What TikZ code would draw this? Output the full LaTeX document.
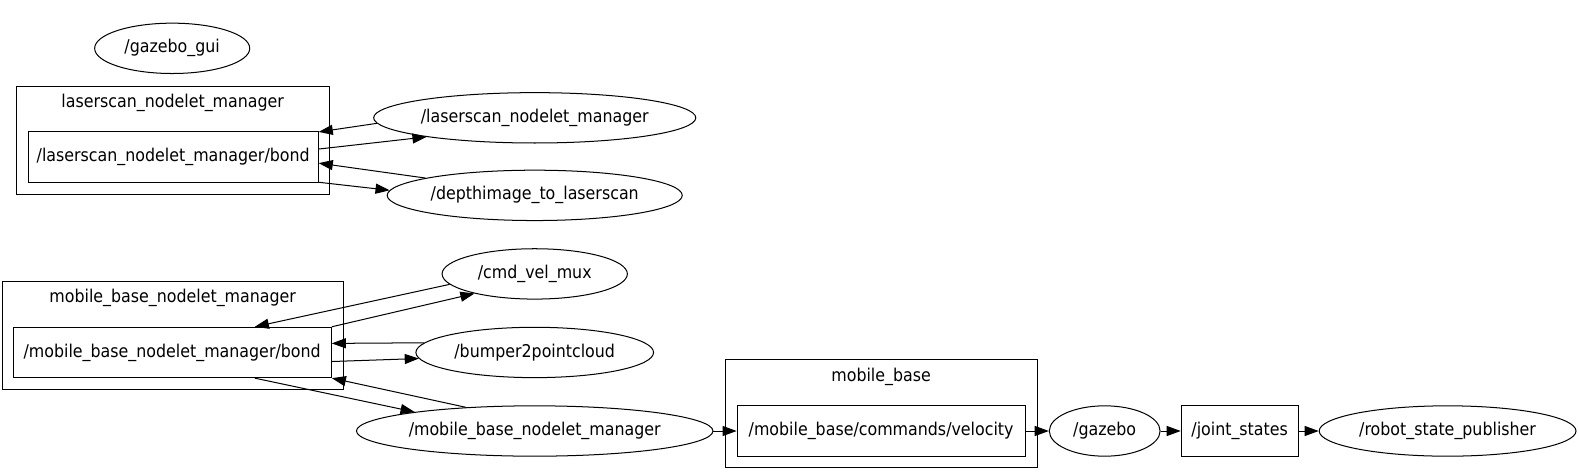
\documentclass[tikz,border=0pt]{standalone}
\usepackage{fontspec}
\IfFontExistsTF{DejaVu Sans Condensed}{%
  \setmainfont{DejaVu Sans Condensed}\newcommand\labelsize{17.5}}{%
  \setmainfont{DejaVu Sans}\newcommand\labelsize{15.8}}
\usetikzlibrary{shapes.geometric,arrows.meta}
\begin{document}
\begin{tikzpicture}[x=1pt,y=-1pt,line width=1pt,
        >={Triangle[length=14pt,width=10pt]},
        every node/.style={font=\fontsize{\labelsize}{18}\selectfont,inner sep=0pt},
        rosnode/.style={draw,ellipse,minimum height=50pt},
        topic/.style={draw,rectangle,minimum height=50pt},
        cluster/.style={draw,rectangle}]
    \useasboundingbox (0,0) rectangle (1568,471);
    % nodes
    \node[rosnode,minimum width=154pt] (gui) at (171,48) {/gazebo\_gui};
    \node[rosnode,minimum width=316pt] (lmgr) at (531,117) {/laserscan\_nodelet\_manager};
    \node[rosnode,minimum width=293pt] (depth) at (531,194) {/depthimage\_to\_laserscan};
    \node[rosnode,minimum width=184pt] (cmd) at (531,272) {/cmd\_vel\_mux};
    \node[rosnode,minimum width=236pt] (bumper) at (531,350) {/bumper2pointcloud};
    \node[rosnode,minimum width=354pt] (mmgr) at (531,428) {/mobile\_base\_nodelet\_manager};
    \node[rosnode,minimum width=110pt] (gazebo) at (1097,428) {/gazebo};
    \node[rosnode,minimum width=255pt] (rsp) at (1437.5,428) {/robot\_state\_publisher};
    % clusters
    \node[cluster,minimum width=311pt,minimum height=107pt] (lcl) at (171.5,139.5) {};
    \node (lcllabel) at (171.5,102) {laserscan\_nodelet\_manager};
    \node[cluster,minimum width=339pt,minimum height=107pt] (mcl) at (171.5,333.5) {};
    \node (mcllabel) at (171.5,296) {mobile\_base\_nodelet\_manager};
    \node[cluster,minimum width=310pt,minimum height=107pt] (vcl) at (875,410.5) {};
    \node (vcllabel) at (875,374) {mobile\_base};
    % topics
    \node[topic,minimum width=288pt] (lbond) at (172,156) {/laserscan\_nodelet\_manager/bond};
    \node[topic,minimum width=316pt] (mbond) at (171,350) {/mobile\_base\_nodelet\_manager/bond};
    \node[topic,minimum width=286pt] (vel) at (875,428) {/mobile\_base/commands/velocity};
    \node[topic,minimum width=116pt] (joint) at (1231,428) {/joint\_states};
    % laserscan bond
    \draw[->] (lmgr.182.6) -- ([yshift=25pt]lbond.east);
    \draw[->] ([yshift=8pt]lbond.east) -- (lmgr.190);
    \draw[->] (depth.171.4) -- ([yshift=-6pt]lbond.east);
    \draw[->] ([yshift=-25pt]lbond.east) -- (depth.178.4);
    % mobile base bond
    \draw[->] (cmd.187.3) -- ([xshift=82pt]mbond.north);
    \draw[->] (mbond.north east) -- (cmd.198.7);
    \draw[->] (bumper.175.6) -- ([yshift=9pt]mbond.east);
    \draw[->] ([yshift=-9pt]mbond.east) -- (bumper.183.6);
    \draw[->] ([xshift=82pt]mbond.south) -- (mmgr.171.9);
    \draw[->] (mmgr.161.3) -- (mbond.south east);
    % velocity chain
    \foreach \a/\b in {mmgr/vel,vel/gazebo,gazebo/joint,joint/rsp}{
        \draw[->] (\a) -- (\b);
        };
\end{tikzpicture}
\end{document}
